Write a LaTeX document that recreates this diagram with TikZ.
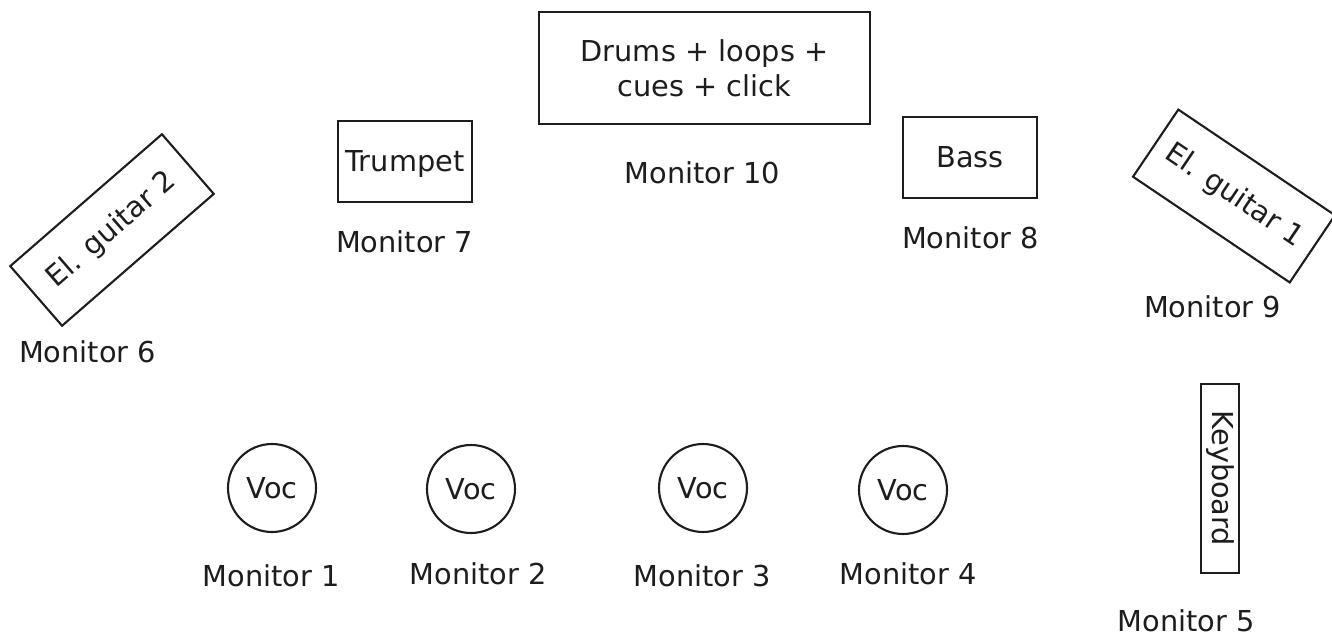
\documentclass[tikz,border=0pt]{standalone}
\usepackage{fontspec}
\setmainfont{DejaVu Sans}
\definecolor{ink}{HTML}{1E1C1D}
\newcommand\fsz{\fontsize{28.8}{34.6}\selectfont}
\tikzset{
  lbl/.style={anchor=base, font=\fsz, text=ink, inner sep=0pt},
  box/.style={draw=ink, line width=2.1pt, font=\fsz, text=ink, inner sep=0pt, align=center},
  voc/.style={draw=ink, circle, line width=2.1pt, minimum size=88pt, inner sep=0pt, font=\fsz, text=ink, text depth=0pt}
}
\begin{document}
\begin{tikzpicture}[x=1pt,y=-1pt]
\useasboundingbox (0,0) rectangle (1332,634);
% instrument boxes
\node[box, minimum width=331pt, minimum height=112pt] (drums) at (704.5,68.3) {Drums + loops +\\cues + click};
\node[box, minimum width=134pt, minimum height=81pt, text depth=0pt] (trumpet) at (405,161.5) {Trumpet};
\node[box, minimum width=134pt, minimum height=81pt, text depth=0pt] (bass) at (970,157.5) {Bass};
\node[box, minimum width=201pt, minimum height=79pt, rotate=41] (guitar2) at (112,230) {El. guitar 2};
\node[box, minimum width=189pt, minimum height=81pt, rotate=-34] (guitar1) at (1234,196) {El. guitar 1};
\node[box, minimum width=189pt, minimum height=38pt, rotate=-90] (keys) at (1220,478.5) {Keyboard};
% vocals
\node[voc] (voc1) at (272,488) {Voc};
\node[voc] (voc2) at (471,489) {Voc};
\node[voc] (voc3) at (703,488) {Voc};
\node[voc] (voc4) at (903,490) {Voc};
% monitor labels
\node[lbl] (m1) at (271,586) {Monitor 1};
\node[lbl] (m2) at (478,584) {Monitor 2};
\node[lbl] (m3) at (702,586) {Monitor 3};
\node[lbl] (m4) at (908,584) {Monitor 4};
\node[lbl] (m5) at (1186,631) {Monitor 5};
\node[lbl] (m6) at (87.5,362) {Monitor 6};
\node[lbl] (m7) at (404.5,252) {Monitor 7};
\node[lbl] (m8) at (970.5,248) {Monitor 8};
\node[lbl] (m9) at (1212.5,317) {Monitor 9};
\node[lbl] (m10) at (702.5,183) {Monitor 10};
\end{tikzpicture}
\end{document}
